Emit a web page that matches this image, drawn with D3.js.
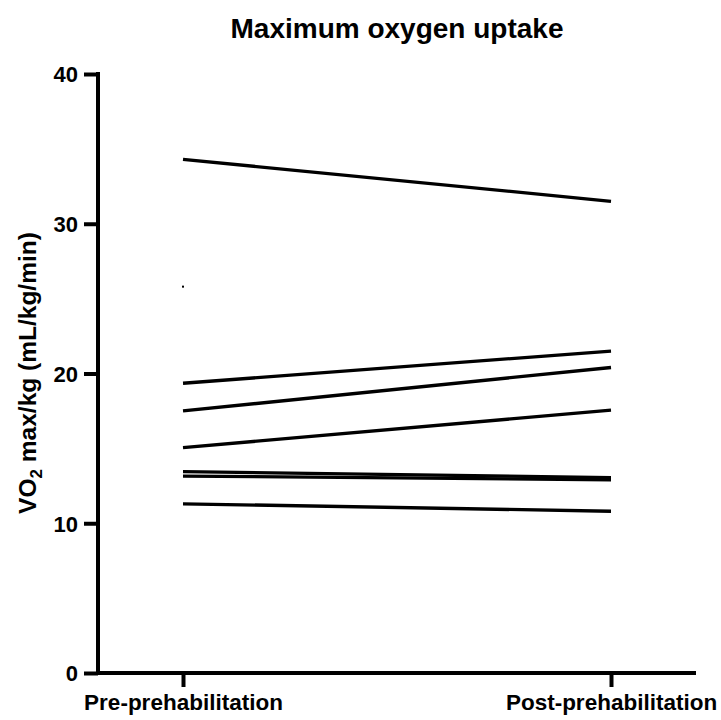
<!DOCTYPE html>
<html>
<head>
<meta charset="utf-8">
<script src="https://cdn.jsdelivr.net/npm/d3@7"></script>
<style>
  body { margin: 0; background: #fff; }
  text { font-family: "Liberation Sans", Arial, sans-serif; font-weight: bold; fill: #000; }
</style>
</head>
<body>
<svg id="chart"></svg>
<script>
(function (d3) {
  'use strict'
  const W = 721
  const H = 720

  // data
  const groups = ['Pre-prehabilitation', 'Post-prehabilitation']
  const preValues = [34.3, 19.35, 17.5, 15.05, 13.45, 13.15, 11.3, 25.8]
  const postValues = [31.5, 21.5, 20.4, 17.55, 13.05, 12.9, 10.8, null]
  const yTicks = [0, 10, 20, 30, 40]

  const svg = d3.select('#chart').attr('width', W).attr('height', H)

  const x = d3.scalePoint().domain(groups).range([183, 611])
  const y = d3.scaleLinear().domain([0, 40]).range([673, 74])

  // y axis
  const yAxis = svg.append('g')
    .attr('transform', 'translate(98,0)')
    .call(d3.axisLeft(y).tickValues(yTicks).tickSize(14).tickPadding(6))
  yAxis.select('.domain').attr('d', 'M0,' + (y(40) - 2) + 'V' + (y(0) + 2))
  yAxis.selectAll('line, path').attr('stroke', '#000').attr('stroke-width', 4)
  yAxis.selectAll('text').style('font-size', '22px').attr('dy', '0.36em')

  // x axis
  const xAxis = svg.append('g')
    .attr('transform', 'translate(0,' + y(0) + ')')
    .call(d3.axisBottom(x).tickSize(14).tickPadding(7))
  xAxis.select('.domain').attr('d', 'M96,0H696')
  xAxis.selectAll('line, path').attr('stroke', '#000').attr('stroke-width', 4)
  xAxis.selectAll('text').style('font-size', '22.5px')

  // paired lines
  const pairs = preValues.map((v, i) => ({ pre: v, post: postValues[i] }))
  svg.append('g').selectAll('line')
    .data(pairs.filter(d => d.post != null))
    .enter().append('line')
    .attr('x1', x(groups[0]))
    .attr('x2', x(groups[1]))
    .attr('y1', d => y(d.pre))
    .attr('y2', d => y(d.post))
    .attr('stroke', '#000')
    .attr('stroke-width', 3.3)

  // subject with no post value
  svg.append('g').selectAll('rect')
    .data(pairs.filter(d => d.post == null))
    .enter().append('rect')
    .attr('x', x(groups[0]) - 1)
    .attr('y', d => y(d.pre) - 1)
    .attr('width', 2)
    .attr('height', 2)
    .attr('fill', '#000')

  // title
  svg.append('text')
    .attr('x', 397)
    .attr('y', 38)
    .attr('text-anchor', 'middle')
    .style('font-size', '28px')
    .text('Maximum oxygen uptake')

  // y label
  const yl = svg.append('text')
    .attr('transform', 'translate(36,373) rotate(-90)')
    .attr('text-anchor', 'middle')
    .style('font-size', '24.5px')
  yl.append('tspan').text('VO')
  yl.append('tspan').attr('dy', 6).style('font-size', '17px').text('2')
  yl.append('tspan').attr('dy', -6).text(' max/kg (mL/kg/min)')
}(d3))
</script>
</body>
</html>
